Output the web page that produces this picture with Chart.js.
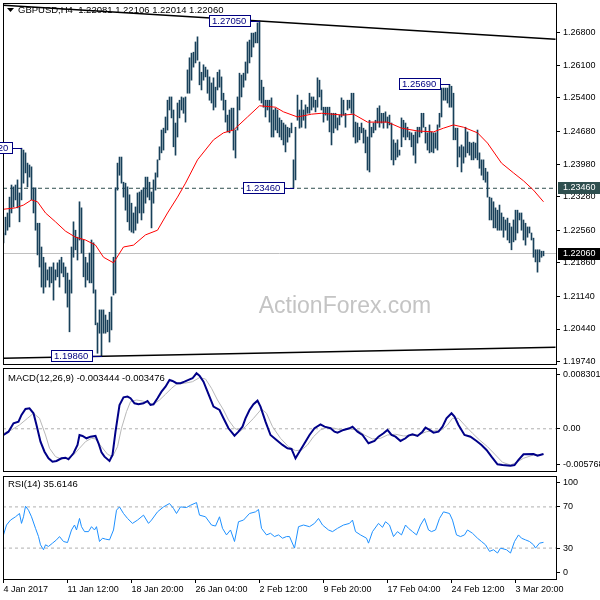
<!DOCTYPE html>
<html>
<head>
<meta charset="utf-8">
<script src="https://cdn.jsdelivr.net/npm/chart.js@4.4.1/dist/chart.umd.min.js"></script>
<style>
  html, body { margin: 0; padding: 0; background: #fff; }
  #lienzo { position: relative; width: 600px; height: 600px; overflow: hidden; }
  canvas { position: absolute; left: 0; }
</style>
</head>
<body>
<div id="lienzo">
  <canvas id="principal" width="600" height="366" style="top:0px"></canvas>
  <canvas id="macd" width="600" height="108" style="top:366px"></canvas>
  <canvas id="rsi" width="600" height="126" style="top:474px"></canvas>
</div>
<script>
// 🔹 Velas H4 GBPUSD: máximo y mínimo de cada vela (una por índice)
const velaMax = [
  1.2250, 1.2284, 1.2293, 1.2327, 1.2353, 1.2349, 1.2353, 1.2364, 1.2336, 1.2432,
  1.2428, 1.2422, 1.2400, 1.2396, 1.2392, 1.2347, 1.2347, 1.2271, 1.2271, 1.2220,
  1.2198, 1.2186, 1.2171, 1.2177, 1.2177, 1.2186, 1.2171, 1.2186, 1.2192, 1.2198,
  1.2186, 1.2177, 1.2164, 1.2149, 1.2220, 1.2274, 1.2256, 1.2241, 1.2317, 1.2304,
  1.2235, 1.2198, 1.2186, 1.2207, 1.2235, 1.2229, 1.2128, 1.2057, 1.2085, 1.2085,
  1.2085, 1.2074, 1.2063, 1.2080, 1.2113, 1.2198, 1.2347, 1.2400, 1.2413, 1.2413,
  1.2359, 1.2357, 1.2349, 1.2332, 1.2314, 1.2293, 1.2306, 1.2336, 1.2338, 1.2342,
  1.2347, 1.2370, 1.2370, 1.2359, 1.2338, 1.2364, 1.2379, 1.2407, 1.2435, 1.2471,
  1.2475, 1.2499, 1.2535, 1.2542, 1.2542, 1.2514, 1.2486, 1.2529, 1.2535, 1.2542,
  1.2540, 1.2542, 1.2600, 1.2626, 1.2636, 1.2638, 1.2660, 1.2671, 1.2617, 1.2595,
  1.2611, 1.2606, 1.2600, 1.2585, 1.2572, 1.2583, 1.2563, 1.2595, 1.2600, 1.2585,
  1.2550, 1.2535, 1.2503, 1.2514, 1.2518, 1.2518, 1.2471, 1.2542, 1.2593, 1.2589,
  1.2593, 1.2617, 1.2660, 1.2664, 1.2679, 1.2679, 1.2681, 1.2701, 1.2705, 1.2578,
  1.2563, 1.2535, 1.2535, 1.2535, 1.2540, 1.2514, 1.2518, 1.2514, 1.2497, 1.2492,
  1.2486, 1.2482, 1.2477, 1.2475, 1.2486, 1.2407, 1.2477, 1.2546, 1.2514, 1.2535,
  1.2514, 1.2525, 1.2520, 1.2550, 1.2542, 1.2542, 1.2535, 1.2583, 1.2578, 1.2557,
  1.2520, 1.2520, 1.2520, 1.2520, 1.2507, 1.2507, 1.2507, 1.2497, 1.2503, 1.2540,
  1.2535, 1.2507, 1.2535, 1.2535, 1.2550, 1.2550, 1.2488, 1.2486, 1.2477, 1.2486,
  1.2475, 1.2471, 1.2456, 1.2492, 1.2477, 1.2486, 1.2492, 1.2518, 1.2523, 1.2507,
  1.2507, 1.2510, 1.2499, 1.2503, 1.2486, 1.2450, 1.2443, 1.2450, 1.2428, 1.2497,
  1.2492, 1.2486, 1.2477, 1.2467, 1.2465, 1.2460, 1.2467, 1.2477, 1.2477, 1.2507,
  1.2507, 1.2477, 1.2465, 1.2482, 1.2467, 1.2465, 1.2465, 1.2482, 1.2507, 1.2561,
  1.2561, 1.2561, 1.2561, 1.2569, 1.2565, 1.2550, 1.2475, 1.2475, 1.2435, 1.2439,
  1.2435, 1.2477, 1.2467, 1.2445, 1.2443, 1.2445, 1.2443, 1.2471, 1.2422, 1.2407,
  1.2407, 1.2389, 1.2381, 1.2327, 1.2325, 1.2317, 1.2304, 1.2299, 1.2310, 1.2293,
  1.2284, 1.2278, 1.2282, 1.2271, 1.2263, 1.2278, 1.2299, 1.2299, 1.2293, 1.2293,
  1.2278, 1.2271, 1.2263, 1.2263, 1.2250, 1.2239, 1.2214, 1.2214, 1.2214, 1.2211,
  1.2211
];
const velaMin = [
  1.2229, 1.2246, 1.2256, 1.2263, 1.2293, 1.2306, 1.2321, 1.2304, 1.2274, 1.2321,
  1.2357, 1.2379, 1.2349, 1.2370, 1.2321, 1.2293, 1.2256, 1.2203, 1.2177, 1.2134,
  1.2121, 1.2134, 1.2149, 1.2134, 1.2143, 1.2106, 1.2149, 1.2156, 1.2134, 1.2164,
  1.2156, 1.2121, 1.2091, 1.2038, 1.2121, 1.2198, 1.2214, 1.2192, 1.2235, 1.2207,
  1.2156, 1.2134, 1.2149, 1.2143, 1.2143, 1.2121, 1.2053, 1.1992, 1.2035, 1.1986,
  1.2035, 1.2035, 1.2038, 1.2016, 1.2042, 1.2117, 1.2121, 1.2342, 1.2374, 1.2357,
  1.2327, 1.2299, 1.2274, 1.2256, 1.2252, 1.2250, 1.2256, 1.2271, 1.2293, 1.2278,
  1.2293, 1.2314, 1.2327, 1.2321, 1.2261, 1.2314, 1.2342, 1.2370, 1.2407, 1.2422,
  1.2428, 1.2465, 1.2471, 1.2514, 1.2497, 1.2435, 1.2417, 1.2456, 1.2497, 1.2514,
  1.2507, 1.2488, 1.2550, 1.2550, 1.2578, 1.2606, 1.2615, 1.2621, 1.2568, 1.2557,
  1.2578, 1.2585, 1.2550, 1.2535, 1.2529, 1.2514, 1.2520, 1.2557, 1.2563, 1.2535,
  1.2514, 1.2488, 1.2467, 1.2465, 1.2471, 1.2428, 1.2411, 1.2471, 1.2514, 1.2542,
  1.2563, 1.2578, 1.2593, 1.2615, 1.2628, 1.2649, 1.2658, 1.2658, 1.2535, 1.2529,
  1.2520, 1.2499, 1.2514, 1.2488, 1.2456, 1.2456, 1.2471, 1.2465, 1.2456, 1.2450,
  1.2439, 1.2424, 1.2445, 1.2456, 1.2465, 1.2346, 1.2364, 1.2492, 1.2475, 1.2477,
  1.2492, 1.2475, 1.2507, 1.2507, 1.2514, 1.2520, 1.2510, 1.2520, 1.2542, 1.2514,
  1.2488, 1.2503, 1.2492, 1.2467, 1.2439, 1.2465, 1.2475, 1.2471, 1.2482, 1.2499,
  1.2503, 1.2477, 1.2514, 1.2518, 1.2507, 1.2456, 1.2443, 1.2445, 1.2450, 1.2465,
  1.2443, 1.2422, 1.2385, 1.2381, 1.2456, 1.2465, 1.2471, 1.2486, 1.2477, 1.2486,
  1.2475, 1.2488, 1.2475, 1.2482, 1.2407, 1.2396, 1.2407, 1.2413, 1.2417, 1.2435,
  1.2456, 1.2450, 1.2456, 1.2450, 1.2435, 1.2417, 1.2400, 1.2443, 1.2456, 1.2465,
  1.2477, 1.2443, 1.2428, 1.2422, 1.2424, 1.2422, 1.2432, 1.2428, 1.2477, 1.2499,
  1.2535, 1.2535, 1.2529, 1.2520, 1.2520, 1.2450, 1.2450, 1.2392, 1.2413, 1.2381,
  1.2400, 1.2413, 1.2422, 1.2417, 1.2407, 1.2407, 1.2411, 1.2407, 1.2389, 1.2374,
  1.2364, 1.2359, 1.2327, 1.2278, 1.2278, 1.2261, 1.2261, 1.2256, 1.2256, 1.2256,
  1.2241, 1.2256, 1.2235, 1.2229, 1.2214, 1.2231, 1.2235, 1.2250, 1.2278, 1.2256,
  1.2235, 1.2224, 1.2241, 1.2250, 1.2235, 1.2198, 1.2188, 1.2166, 1.2188, 1.2198,
  1.2201
];

const mediaX = [0, 6, 10, 14, 17, 21, 26, 31, 36, 41, 46, 50, 55, 60, 65, 71, 77, 82, 87, 91,
  97, 105, 110, 115, 122, 128, 136, 140, 147, 154, 159, 170, 175, 182, 192, 199, 207, 215, 220, 225,
  230, 237, 242, 249, 255, 260, 265, 270];
const mediaY = [1.2301, 1.2304, 1.2310, 1.2321, 1.2317, 1.2293, 1.2274, 1.2254, 1.2241, 1.2235,
  1.2224, 1.2198, 1.2186, 1.2220, 1.2224, 1.2246, 1.2256, 1.2293, 1.2327, 1.2357,
  1.2407, 1.2450, 1.2465, 1.2471, 1.2499, 1.2523, 1.2520, 1.2510, 1.2499, 1.2505,
  1.2507, 1.2503, 1.2505, 1.2488, 1.2488, 1.2475, 1.2469, 1.2467, 1.2475, 1.2482,
  1.2477, 1.2465, 1.2443, 1.2400, 1.2379, 1.2362, 1.2342, 1.2317];

// 🔹 MACD(12,26,9): línea principal y señal
const macdX = [0, 2.5, 5, 7.5, 9, 11, 13, 15, 16.5, 18.5,
  20.5, 22.5, 24.5, 26.5, 29, 31, 32.5, 35, 37, 38,
  39.5, 41.5, 43.5, 46, 47.5, 49, 50.5, 53, 54.5, 56,
  58, 60, 62, 63.5, 65.5, 67.5, 70, 72, 73.5, 75,
  77, 79, 81, 83, 84.5, 86.5, 88.5, 90.5, 92.5, 94.5,
  96.5, 98, 100, 102, 105, 108, 110, 112.5, 115.5, 117.5,
  119.5, 121, 123, 125, 127, 128.5, 131, 133.5, 136.5, 139.5,
  142, 144, 146, 147.5, 150, 153, 155.5, 158.5, 160.5, 163.5,
  165.5, 167, 170, 173, 174.5, 177, 179.5, 182.5, 185.5, 187.5,
  190, 192, 194, 196, 198.5, 201, 202.5, 204.5, 207, 209.5,
  211, 213, 215, 217.5, 219.5, 221.5, 224, 225.5, 227.5, 230.5,
  233.5, 236.5, 239, 241.5, 244, 247, 249.5, 253.5, 255.5, 257.5,
  260, 265, 267, 270];
const macdPrincipal = [-0.00085, -0.0004, 0.00075, 0.00097, 0.00189, 0.0027, 0.0028, 0.00212, 0.00052, -0.00176,
  -0.00313, -0.00403, -0.00449, -0.0044, -0.00403, -0.00395, -0.00417, -0.00335, -0.00221, -0.00085,
  -0.00098, -0.0013, -0.00108, -0.00098, -0.00198, -0.00321, -0.00381, -0.0044, -0.00358, -0.0004,
  0.00325, 0.0043, 0.00439, 0.00417, 0.00348, 0.00335, 0.00348, 0.0038, 0.00325, 0.00335,
  0.00417, 0.00507, 0.00575, 0.00667, 0.00653, 0.00622, 0.00622, 0.00643, 0.00667, 0.0069,
  0.00758, 0.00725, 0.00643, 0.00507, 0.00302, 0.00257, 0.00143, 0.00007, -0.00094, -0.0004,
  0.00029, 0.00143, 0.00257, 0.00335, 0.00384, 0.00302, 0.00097, -0.00085, -0.00153, -0.00221,
  -0.00266, -0.00276, -0.00403, -0.00335, -0.00221, -0.00085, 0.00007, 0.00061, 0.00029, 0.00007,
  -0.0004, -0.00053, -0.00016, 0.00007, 0.00029, -0.0004, -0.00085, -0.00198, -0.00167, -0.00108,
  -0.00061, -0.00016, -0.00085, -0.00108, -0.00167, -0.0013, -0.00094, -0.00075, -0.00098, -0.0004,
  0.00015, -0.00016, -0.00053, -0.0004, 0.00029, 0.00143, 0.00212, 0.00166, 0.00052, -0.00085,
  -0.00108, -0.00167, -0.00221, -0.0029, -0.00381, -0.00485, -0.00495, -0.00504, -0.00495, -0.00426,
  -0.00348, -0.00344, -0.00367, -0.00344];
const senalX = [0, 4, 8, 12, 15, 18, 21, 23, 26, 29,
  32, 35, 38, 41, 44, 46, 49, 52, 54.5, 57,
  59, 61.5, 63.5, 66.5, 69.5, 72.5, 75, 78, 81, 84,
  86.5, 90.5, 94.5, 98, 101, 104, 107, 110, 112.5, 115.5,
  118.5, 121, 125, 129, 131.5, 134.5, 138.5, 142.5, 146, 149,
  152, 155, 158.5, 161.5, 165.5, 169, 173, 177, 180.5, 184.5,
  188.5, 192, 196, 200, 203.5, 207.5, 211.5, 215, 219, 222,
  224.5, 227.5, 230.5, 234.5, 238, 242, 246, 249.5, 253.5, 256.5,
  260, 265, 270];
const senalY = [-0.00061, -0.00016, 0.00052, 0.00143, 0.00212, 0.00143, -0.00085, -0.00266, -0.00381, -0.00413,
  -0.00403, -0.00358, -0.00266, -0.00176, -0.0013, -0.00139, -0.00245, -0.00348, -0.00381, -0.00245,
  0.00007, 0.00234, 0.0037, 0.00393, 0.0038, 0.00348, 0.00335, 0.00393, 0.00471, 0.00553,
  0.00608, 0.00622, 0.00643, 0.00698, 0.0068, 0.00553, 0.00393, 0.00257, 0.0012, 0.00007,
  -0.0003, 0.00029, 0.00143, 0.0027, 0.00212, 0.00029, -0.0013, -0.00245, -0.00299, -0.0029,
  -0.00221, -0.00108, -0.00016, 0.00015, 0.00007, -0.00016, -0.00002, -0.00016, -0.00085, -0.00139,
  -0.0013, -0.00085, -0.00075, -0.00098, -0.00094, -0.00085, -0.0004, -0.0003, -0.00016, 0.00052,
  0.00143, 0.00143, 0.00052, -0.00061, -0.00153, -0.00245, -0.00358, -0.00458, -0.00495, -0.00458,
  -0.00403, -0.00358, -0.00348];

// 🔹 RSI(14)
const rsiX = [0, 1.5, 3.5, 6, 8, 9, 10, 11, 12.5, 14,
  16, 17.5, 18.5, 20, 21, 22.5, 24.5, 26.5, 28, 30,
  32, 34, 35.5, 36.5, 38, 39, 40.5, 42.5, 44, 45.5,
  46.5, 48, 49.5, 51, 53, 55, 56.5, 58, 60, 62,
  64.5, 67, 70, 72.5, 74, 77, 80, 83, 85, 86.5,
  88.5, 91.5, 93.5, 96.5, 98, 101, 104, 106, 108, 109.5,
  111.5, 113.5, 115.5, 117.5, 120, 123, 126, 127.5, 129, 131.5,
  133.5, 135.5, 137.5, 139.5, 141.5, 143, 145.5, 147.5, 150, 153,
  155.5, 157.5, 159.5, 162.5, 164.5, 167, 170, 173, 174.5, 176,
  178.5, 181.5, 182.5, 184.5, 187.5, 189.5, 191, 193, 195, 197,
  199, 201, 202.5, 204.5, 206.5, 208.5, 210.5, 212.5, 214, 216,
  218, 220, 223, 224.5, 226.5, 228.5, 230.5, 232, 234.5, 237,
  239, 241, 243, 245, 247, 248.5, 251.5, 253.5, 255.5, 257.5,
  259, 261, 263, 265, 266, 268, 270];
const rsiY = [42.8, 52.4, 57.2, 60.4, 63.6, 54.0, 60.4, 70.7, 66.8, 60.4,
  49.2, 41.2, 33.2, 28.4, 33.2, 31.6, 34.8, 38.0, 41.2, 36.4,
  35.4, 47.6, 52.4, 47.6, 58.8, 50.8, 46.0, 46.0, 50.8, 47.6,
  50.8, 36.4, 39.6, 38.7, 38.0, 47.6, 66.8, 70.0, 63.6, 58.8,
  54.0, 57.2, 62.0, 54.0, 57.2, 65.2, 70.0, 73.3, 68.5, 63.6,
  70.0, 69.4, 71.6, 74.2, 62.0, 60.4, 52.4, 51.4, 60.4, 49.2,
  42.8, 47.6, 36.4, 55.6, 57.2, 63.6, 65.2, 67.5, 49.2, 42.8,
  44.4, 41.2, 42.8, 39.6, 41.2, 41.2, 30.0, 50.8, 52.4, 50.8,
  54.0, 58.8, 52.4, 47.6, 46.0, 49.2, 52.4, 54.0, 57.2, 46.0,
  42.8, 39.6, 34.8, 46.0, 54.0, 50.2, 55.6, 52.4, 41.2, 46.0,
  42.8, 52.4, 49.2, 46.0, 42.8, 52.4, 58.8, 47.6, 46.0, 47.6,
  58.8, 65.2, 63.6, 57.2, 42.8, 41.2, 42.8, 47.6, 44.4, 39.6,
  36.4, 33.2, 26.8, 28.4, 25.2, 30.0, 28.4, 25.2, 36.4, 42.8,
  39.6, 38.0, 36.4, 33.2, 30.0, 34.8, 35.6];

// 🔹 Ejes y etiquetas
const rangoPrecio = [1.19689, 1.27436];
const preciosEje = [1.1974, 1.2044, 1.2114, 1.2186, 1.2256, 1.2328, 1.2398, 1.2468, 1.2540, 1.2610, 1.2680];
const rangoMacd = [-0.005768, 0.008301];
const etiquetasMacd = ['-0.005768', '0.00', '0.008301'];
const etiquetasRsi = ['0', '30', '70', '100'];
const nivelesRsi = [30, 70];
const posicionesX = [0, 32, 64, 96, 128, 160, 192, 224, 256];
const etiquetasX = ['4 Jan 2017', '11 Jan 12:00', '18 Jan 20:00', '26 Jan 04:00', '2 Feb 12:00',
  '9 Feb 20:00', '17 Feb 04:00', '24 Feb 12:00', '3 Mar 20:00'];

// 🔹 Niveles marcados en el gráfico
const marcasVela = [9, 49, 128, 145, 223];
const marcasPrecio = [1.2432, 1.1986, 1.2705, 1.2346, 1.2569];
const nivelSoporte = 1.2346;
const precioActual = 1.2206;
const ultimaVela = ['1.22081', '1.22106', '1.22014', '1.22060'];
const tendSupX = [0, 276];
const tendSupY = [1.2739, 1.2666];
const tendInfX = [0, 276];
const tendInfY = [1.1981, 1.2005];

const fuente = '"Liberation Sans", Arial, sans-serif';
const X_MIN = -0.25;
const X_MAX = 276.25;

Chart.defaults.font.family = fuente;
Chart.defaults.font.size = 9;
Chart.defaults.color = '#000';

function puntos(xs, ys) {
    return xs.map((x, i) => ({ x: x, y: ys[i] }));
}

function lineaHorizontal(valor) {
    return [{ x: X_MIN, y: valor }, { x: X_MAX, y: valor }];
}

function ejeX(visible) {
    return {
        type: 'linear', min: X_MIN, max: X_MAX, offset: false, display: visible,
        grid: { display: visible, drawOnChartArea: false, tickLength: 4, color: '#000', offset: false },
        border: { display: visible, color: '#000' },
        afterBuildTicks: s => { s.ticks = posicionesX.map(v => ({ value: v })); },
        afterFit: s => {
            if (visible) s.height = 21;
            s.paddingLeft = 0;
            s.paddingRight = 0;
        },
        ticks: { autoSkip: false, maxRotation: 0, minRotation: 0, align: 'start', padding: 1,
            callback: (v, i) => etiquetasX[i] }
    };
}

function ejeY(min, max, valores, texto) {
    return {
        position: 'right', min: min, max: max,
        grid: { drawOnChartArea: false, tickLength: 4, color: '#000' },
        border: { display: true, color: '#000' },
        afterBuildTicks: s => { s.ticks = valores.map(v => ({ value: v })); },
        afterFit: s => {
            s.width = 44;
            s.paddingTop = 0;
            s.paddingBottom = 0;
        },
        ticks: { autoSkip: false, padding: 3, callback: texto }
    };
}

// 🔹 Marco negro de cada panel
const marco = {
    id: 'marco',
    afterDraw(chart) {
        const { ctx, chartArea: a } = chart;
        ctx.save();
        ctx.strokeStyle = '#000';
        ctx.lineWidth = 1;
        ctx.strokeRect(a.left + 0.5, a.top + 0.5, a.right - a.left, a.bottom - a.top);
        ctx.restore();
    }
};

function tituloPanel(texto, dy, triangulo) {
    return {
        id: 'titulo',
        afterDraw(chart) {
            const { ctx, chartArea: a } = chart;
            ctx.save();
            ctx.font = '9.5px ' + fuente;
            ctx.fillStyle = '#000';
            ctx.textBaseline = 'middle';
            let x = a.left + 5;
            const y = a.top + dy;
            if (triangulo) {
                ctx.beginPath();
                ctx.moveTo(x - 1, y - 2);
                ctx.lineTo(x + 6, y - 2);
                ctx.lineTo(x + 2.5, y + 2);
                ctx.closePath();
                ctx.fill();
                x += 10;
            }
            ctx.fillText(texto, x, y);
            ctx.restore();
        }
    };
}

const marcaAgua = {
    id: 'marcaAgua',
    beforeDatasetsDraw(chart) {
        const ctx = chart.ctx;
        ctx.save();
        ctx.font = '23px ' + fuente;
        ctx.fillStyle = '#c4c4c4';
        ctx.textAlign = 'center';
        ctx.textBaseline = 'alphabetic';
        ctx.fillText('ActionForex.com', 345, 313);
        ctx.restore();
    }
};

// 🔹 Cajas de precio sobre máximos y mínimos
const etiquetasNivel = {
    id: 'etiquetasNivel',
    afterDraw(chart) {
        const { ctx, scales: { x, y } } = chart;
        ctx.save();
        ctx.font = '9.5px ' + fuente;
        ctx.textBaseline = 'middle';
        marcasVela.forEach((vela, k) => {
            const texto = marcasPrecio[k].toFixed(5);
            const px = Math.round(x.getPixelForValue(vela));
            const py = Math.round(y.getPixelForValue(marcasPrecio[k]));
            const ancho = Math.ceil(ctx.measureText(texto).width) + 6;
            const der = px - 10;
            ctx.fillStyle = '#fff';
            ctx.fillRect(der - ancho, py - 6, ancho, 12);
            ctx.strokeStyle = '#000080';
            ctx.lineWidth = 1;
            ctx.strokeRect(der - ancho + 0.5, py - 5.5, ancho, 11);
            ctx.beginPath();
            ctx.moveTo(der, py + 0.5);
            ctx.lineTo(px, py + 0.5);
            ctx.stroke();
            ctx.fillStyle = '#000080';
            ctx.fillText(texto, der - ancho + 3, py + 0.5);
        });
        ctx.restore();
    }
};

// 🔹 Precios resaltados en el eje derecho
const cajasEje = {
    id: 'cajasEje',
    afterDraw(chart) {
        const { ctx, scales: { y }, chartArea: a } = chart;
        ctx.save();
        ctx.font = '9px ' + fuente;
        ctx.textBaseline = 'middle';
        [[nivelSoporte, '#2f4f4f'], [precioActual, '#000000']].forEach(([valor, fondo]) => {
            const py = Math.round(y.getPixelForValue(valor));
            ctx.fillStyle = fondo;
            ctx.fillRect(a.right + 2, py - 6, 600 - a.right - 2, 12);
            ctx.fillStyle = '#fff';
            ctx.fillText(valor.toFixed(5), a.right + 7, py);
        });
        ctx.restore();
    }
};

const opcionesBase = {
    responsive: false,
    devicePixelRatio: 1,
    animation: false,
    events: [],
    plugins: { legend: { display: false }, tooltip: { enabled: false } }
};

// 🔸 Panel de precio
new Chart(document.getElementById('principal'), {
    type: 'bar',
    data: {
        datasets: [
            { type: 'line', data: lineaHorizontal(precioActual), borderColor: '#c0c0c0', borderWidth: 1, pointRadius: 0, order: 6 },
            { type: 'line', data: lineaHorizontal(nivelSoporte), borderColor: '#2f4f4f', borderWidth: 1, borderDash: [4, 3], pointRadius: 0, order: 5 },
            { type: 'bar', data: velaMax.map((h, i) => ({ x: i, y: [velaMin[i], h] })), backgroundColor: '#18405a', borderWidth: 0, barThickness: 1, order: 3 },
            { type: 'line', data: puntos(mediaX, mediaY), borderColor: '#ff0000', borderWidth: 1, pointRadius: 0, order: 2 },
            { type: 'line', data: puntos(tendSupX, tendSupY), borderColor: '#000', borderWidth: 1.5, pointRadius: 0, order: 1 },
            { type: 'line', data: puntos(tendInfX, tendInfY), borderColor: '#000', borderWidth: 1.5, pointRadius: 0, order: 1 }
        ]
    },
    options: Object.assign({}, opcionesBase, {
        layout: { padding: { left: 3, top: 3, right: 0, bottom: 2 } },
        scales: {
            x: ejeX(false),
            y: ejeY(rangoPrecio[0], rangoPrecio[1], preciosEje, v => v.toFixed(5))
        }
    }),
    plugins: [marcaAgua, marco, tituloPanel('GBPUSD,H4  ' + ultimaVela.join(' '), 7, true), etiquetasNivel, cajasEje]
});

// 🔸 Panel MACD
const margenMacd = (rangoMacd[1] - rangoMacd[0]) * 0.06;
new Chart(document.getElementById('macd'), {
    type: 'line',
    data: {
        datasets: [
            { data: lineaHorizontal(0), borderColor: '#b0b0b0', borderWidth: 1, borderDash: [3, 3], pointRadius: 0, order: 3 },
            { data: puntos(senalX, senalY), borderColor: '#b8b8b8', borderWidth: 1, pointRadius: 0, order: 2 },
            { data: puntos(macdX, macdPrincipal), borderColor: '#000088', borderWidth: 2, pointRadius: 0, order: 1 }
        ]
    },
    options: Object.assign({}, opcionesBase, {
        layout: { padding: { left: 3, top: 2, right: 0, bottom: 3 } },
        scales: {
            x: ejeX(false),
            y: ejeY(rangoMacd[0], rangoMacd[1], [rangoMacd[0] + margenMacd, 0, rangoMacd[1] - margenMacd],
                (v, i) => etiquetasMacd[i])
        }
    }),
    plugins: [marco, tituloPanel('MACD(12,26,9) -0.003444 -0.003476', 10, false)]
});

// 🔸 Panel RSI
new Chart(document.getElementById('rsi'), {
    type: 'line',
    data: {
        datasets: [
            { data: lineaHorizontal(nivelesRsi[0]), borderColor: '#b0b0b0', borderWidth: 1, borderDash: [3, 3], pointRadius: 0, order: 3 },
            { data: lineaHorizontal(nivelesRsi[1]), borderColor: '#b0b0b0', borderWidth: 1, borderDash: [3, 3], pointRadius: 0, order: 3 },
            { data: puntos(rsiX, rsiY), borderColor: '#1e90ff', borderWidth: 1, pointRadius: 0, order: 1 }
        ]
    },
    options: Object.assign({}, opcionesBase, {
        layout: { padding: { left: 3, top: 2, right: 0, bottom: 0 } },
        scales: {
            x: ejeX(true),
            y: ejeY(0, 100, [6.5, 30, 70, 93.5], (v, i) => etiquetasRsi[i])
        }
    }),
    plugins: [marco, tituloPanel('RSI(14) 35.6146', 8, false)]
});
</script>
</body>
</html>
